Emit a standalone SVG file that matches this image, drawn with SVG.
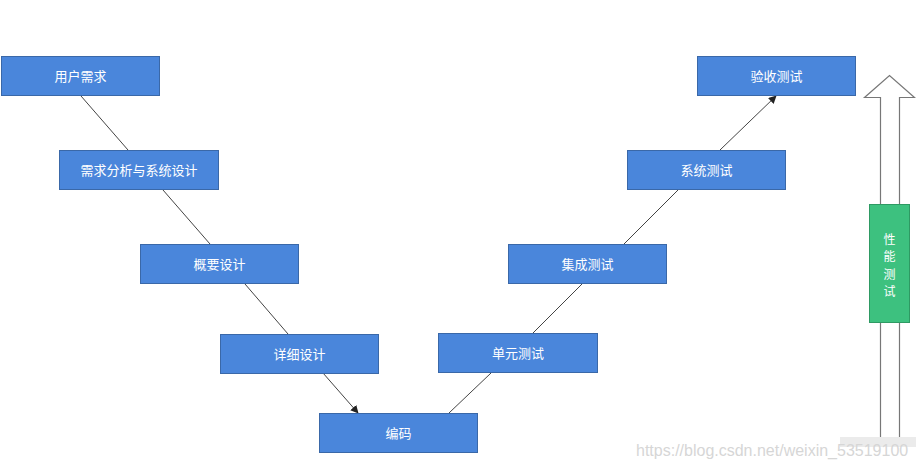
<svg xmlns="http://www.w3.org/2000/svg" width="916" height="467" viewBox="0 0 916 467">
<style>
.box{fill:#4a86db;stroke:#3a68a8;stroke-width:1}
.lbl{font-family:"Noto Sans CJK SC","Liberation Sans",sans-serif;font-size:13px;fill:#ffffff;text-anchor:middle;dominant-baseline:central}
.vl{font-family:"Noto Sans CJK SC","Liberation Sans",sans-serif;font-size:12px;fill:#ffffff;text-anchor:middle;dominant-baseline:central}
.con{stroke:#444444;stroke-width:1;fill:none}
.wm{font-family:"Liberation Sans",Arial,sans-serif;font-size:16px;fill:#d6d6d6}
</style>
<defs>
<marker id="ah" viewBox="0 0 10 10" refX="9" refY="5" markerWidth="8" markerHeight="8" orient="auto" markerUnits="userSpaceOnUse">
<path d="M0,0 L10,5 L0,10 z" fill="#222222"/>
</marker>
</defs>
<rect width="916" height="467" fill="#ffffff"/>
<g id="connectors">
<line class="con" x1="81" y1="96" x2="128" y2="150"/>
<line class="con" x1="163" y1="190" x2="210" y2="244"/>
<line class="con" x1="245" y1="284" x2="288" y2="334"/>
<line class="con" x1="323" y1="373" x2="358" y2="413" marker-end="url(#ah)"/>
<line class="con" x1="449" y1="413" x2="491" y2="373"/>
<line class="con" x1="532" y1="334" x2="582" y2="284"/>
<line class="con" x1="624" y1="244" x2="678" y2="190"/>
<line class="con" x1="720" y1="150" x2="776" y2="96" marker-end="url(#ah)"/>
</g>
<g id="n1"><rect class="box" x="1.5" y="56.5" width="158" height="39"/><text class="lbl" x="80.5" y="75">用户需求</text></g>
<g id="n2"><rect class="box" x="59.5" y="150.5" width="159" height="39"/><text class="lbl" x="139" y="169">需求分析与系统设计</text></g>
<g id="n3"><rect class="box" x="140.5" y="244.5" width="158" height="39"/><text class="lbl" x="219.5" y="263">概要设计</text></g>
<g id="n4"><rect class="box" x="220.5" y="334.5" width="158" height="39"/><text class="lbl" x="299.5" y="353">详细设计</text></g>
<g id="n5"><rect class="box" x="319.5" y="413.5" width="158" height="39"/><text class="lbl" x="398.5" y="432">编码</text></g>
<g id="n6"><rect class="box" x="438.5" y="333.5" width="159" height="39"/><text class="lbl" x="518" y="352">单元测试</text></g>
<g id="n7"><rect class="box" x="508.5" y="244.5" width="158" height="39"/><text class="lbl" x="587.5" y="263">集成测试</text></g>
<g id="n8"><rect class="box" x="627.5" y="150.5" width="158" height="39"/><text class="lbl" x="706.5" y="169">系统测试</text></g>
<g id="n9"><rect class="box" x="697.5" y="56.5" width="158" height="39"/><text class="lbl" x="776.5" y="75">验收测试</text></g>
<g id="perf-arrow">
<path d="M880.5,437 L880.5,97.5 L864.5,97.5 L889.5,75.5 L914.5,97.5 L899.5,97.5 L899.5,437" fill="#ffffff" stroke="#777777" stroke-width="1.2"/>
</g>
<g id="perf">
<rect x="869.5" y="204.5" width="40" height="118" fill="#3dc17f" stroke="#2e9a63" stroke-width="1"/>
<text class="vl" x="889.5" y="238">性</text>
<text class="vl" x="889.5" y="255.5">能</text>
<text class="vl" x="889.5" y="273">测</text>
<text class="vl" x="889.5" y="290.5">试</text>
</g>
<rect x="840" y="437" width="76" height="10" fill="#e6e6e6" opacity="0.8"/>
<text class="wm" x="636" y="456">https://blog.csdn.net/weixin_53519100</text>
</svg>
